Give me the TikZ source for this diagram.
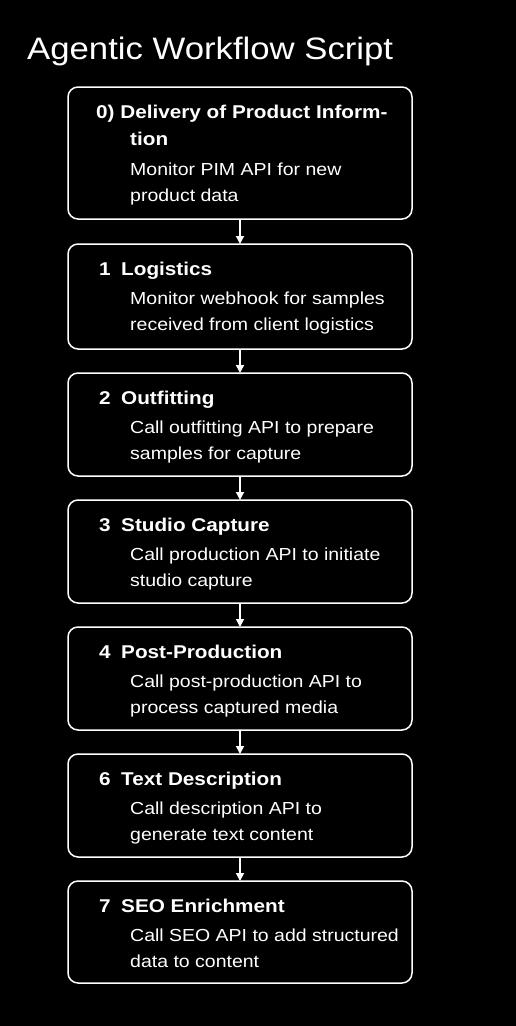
\documentclass[tikz,border=0pt]{standalone}
\usepackage{fontspec}
\setmainfont{Liberation Sans}[FakeStretch=1.12]
\usetikzlibrary{arrows.meta}
\begin{document}
\begin{tikzpicture}[x=1pt,y=-1pt,
  stepbox/.style={draw=white, line width=1.5pt, rounded corners=10pt, minimum width=344pt, inner sep=0pt, outer sep=0pt},
  headtxt/.style={text=white, anchor=base west, inner sep=0pt, font=\fontsize{18.5}{22}\selectfont\bfseries},
  bodytxt/.style={text=white, anchor=base west, inner sep=0pt, font=\fontsize{17.4}{22}\selectfont},
  arr/.style={draw=white, line width=1.6pt, -{Triangle[width=8pt,length=8pt]}}]
\fill[black] (0,0) rectangle (516,1026);
\useasboundingbox (0,0) rectangle (516,1026);
\node[text=white, anchor=base west, inner sep=0pt, font=\fontsize{31}{36}\selectfont] (title) at (27,59) {Agentic Workflow Script};
% boxes
\node[stepbox, minimum height=132pt] (b0) at (240,153) {};
\node[stepbox, minimum height=105pt] (b1) at (240,296.5) {};
\node[stepbox, minimum height=103pt] (b2) at (240,424.5) {};
\node[stepbox, minimum height=103pt] (b3) at (240,551.5) {};
\node[stepbox, minimum height=103pt] (b4) at (240,678.5) {};
\node[stepbox, minimum height=103pt] (b6) at (240,805.5) {};
\node[stepbox, minimum height=102pt] (b7) at (240,932) {};
% box 0
\node[headtxt] (h0) at (96,118) {0) Delivery of Product Inform-};
\node[headtxt] (h0b) at (130,145) {tion};
\node[bodytxt] (t0a) at (130,175) {Monitor PIM API for new};
\node[bodytxt] (t0b) at (130,201) {product data};
% box 1
\node[headtxt] (n1) at (99,275) {1};
\node[headtxt] (h1) at (121,275) {Logistics};
\node[bodytxt] (t1a) at (130,304) {Monitor webhook for samples};
\node[bodytxt] (t1b) at (130,330) {received from client logistics};
% box 2
\node[headtxt] (n2) at (99,404) {2};
\node[headtxt] (h2) at (121,404) {Outfitting};
\node[bodytxt] (t2a) at (130,433) {Call outfitting API to prepare};
\node[bodytxt] (t2b) at (130,459) {samples for capture};
% box 3
\node[headtxt] (n3) at (99,531) {3};
\node[headtxt] (h3) at (121,531) {Studio Capture};
\node[bodytxt] (t3a) at (130,560) {Call production API to initiate};
\node[bodytxt] (t3b) at (130,586) {studio capture};
% box 4
\node[headtxt] (n4) at (99,658) {4};
\node[headtxt] (h4) at (121,658) {Post-Production};
\node[bodytxt] (t4a) at (130,687) {Call post-production API to};
\node[bodytxt] (t4b) at (130,713) {process captured media};
% box 6
\node[headtxt] (n6) at (99,785) {6};
\node[headtxt] (h6) at (121,785) {Text Description};
\node[bodytxt] (t6a) at (130,814) {Call description API to};
\node[bodytxt] (t6b) at (130,840) {generate text content};
% box 7
\node[headtxt] (n7) at (99,912) {7};
\node[headtxt] (h7) at (121,912) {SEO Enrichment};
\node[bodytxt] (t7a) at (130,941) {Call SEO API to add structured};
\node[bodytxt] (t7b) at (130,967) {data to content};
% arrows
\draw[arr] (b0.south) -- (b1.north);
\draw[arr] (b1.south) -- (b2.north);
\draw[arr] (b2.south) -- (b3.north);
\draw[arr] (b3.south) -- (b4.north);
\draw[arr] (b4.south) -- (b6.north);
\draw[arr] (b6.south) -- (b7.north);
\end{tikzpicture}
\end{document}
